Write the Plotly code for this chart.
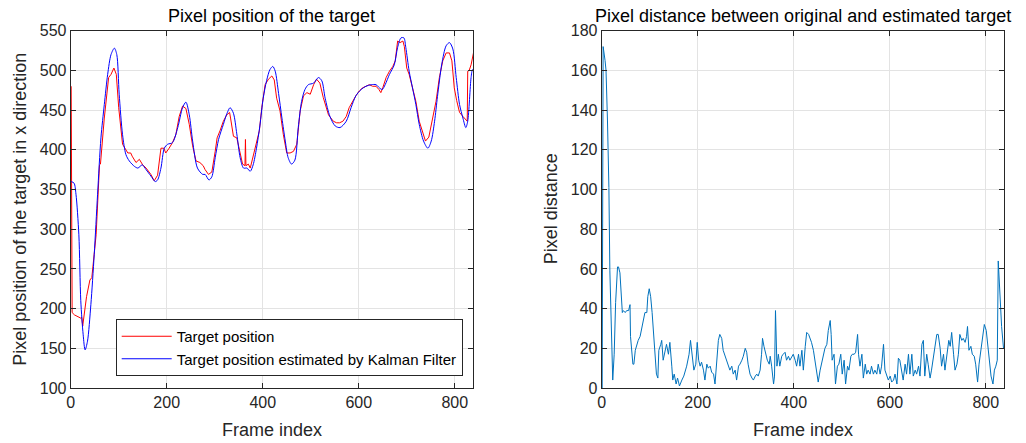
import plotly.graph_objects as go

# ---------------- data ----------------
target_frames = [1, 3, 8, 15, 21, 23, 25, 33, 40, 44, 53, 60, 62, 70, 79, 84, 90, 95, 100, 108, 114, 119, 125,
                 128, 136, 143, 150, 157, 167, 174, 181, 188, 194, 198, 205, 212, 219, 226, 233, 240, 247, 254,
                 261, 269, 276, 280, 287, 294, 301, 305, 311, 318, 325, 331, 333, 339, 346, 353, 358, 363, 364,
                 365, 370, 374, 380, 387, 393, 398, 405, 412, 419, 424, 429, 436, 443, 450, 457, 464, 471, 478,
                 485, 492, 499, 506, 512, 519, 526, 537, 547, 554, 560, 567, 574, 580, 587, 594, 601, 608, 615,
                 622, 629, 636, 642, 646, 650, 657, 664, 671, 676, 681, 686, 692, 695, 700, 705, 712, 719, 726,
                 733, 739, 746, 754, 761, 768, 775, 782, 789, 794, 799, 804, 810, 817, 824, 826, 827, 830, 834,
                 837, 839]
target_pos = [480, 195, 192, 190, 188, 189, 178, 215, 236, 239, 293, 381, 382, 440, 491, 495, 503, 495, 453, 407,
              400, 396, 396, 392, 384, 388, 381, 377, 369, 361, 368, 402, 402, 396, 402, 409, 419, 442, 455, 452,
              432, 405, 386, 384, 380, 375, 369, 372, 398, 415, 424, 436, 444, 447, 440, 417, 415, 394, 382, 380,
              413, 380, 382, 377, 392, 408, 424, 453, 482, 489, 493, 488, 465, 449, 419, 396, 396, 398, 407, 449,
              468, 472, 470, 482, 489, 484, 466, 444, 436, 434, 434, 436, 442, 453, 461, 468, 474, 478, 480, 482,
              480, 480, 476, 472, 478, 491, 499, 505, 512, 537, 535, 537, 530, 503, 495, 478, 461, 436, 421, 411,
              416, 440, 461, 491, 512, 522, 522, 512, 478, 462, 447, 442, 438, 436, 499, 500, 507, 516, 522]

kalman_frames = [1, 7, 11, 17, 21, 26, 30, 35, 42, 49, 56, 63, 70, 77, 84, 91, 96, 101, 108, 115, 122, 133, 140,
                 149, 157, 167, 176, 181, 188, 195, 202, 212, 223, 233, 240, 247, 254, 264, 275, 280, 288, 294,
                 301, 308, 318, 325, 332, 339, 346, 353, 360, 367, 374, 380, 387, 394, 401, 408, 415, 421, 426,
                 433, 440, 447, 453, 460, 467, 474, 481, 488, 495, 506, 516, 523, 530, 540, 551, 561, 574, 584,
                 594, 605, 615, 626, 636, 643, 649, 655, 664, 674, 681, 688, 694, 698, 705, 712, 719, 726, 735,
                 744, 751, 758, 764, 773, 782, 789, 796, 803, 810, 817, 823, 827, 834, 837, 839]
kalman_pos = [360, 358, 344, 293, 210, 167, 148, 159, 205, 268, 344, 415, 457, 495, 520, 528, 520, 470, 419, 394,
              386, 379, 377, 381, 375, 367, 360, 362, 377, 402, 407, 409, 428, 453, 460, 444, 411, 377, 369, 369,
              362, 366, 390, 413, 432, 445, 453, 446, 420, 390, 377, 377, 373, 381, 402, 430, 465, 487, 501, 505,
              499, 471, 440, 411, 390, 382, 387, 428, 461, 476, 482, 484, 491, 487, 465, 442, 430, 428, 436, 453,
              468, 476, 480, 482, 482, 478, 476, 482, 495, 507, 529, 541, 541, 529, 499, 478, 457, 432, 411, 402,
              411, 436, 467, 508, 531, 535, 527, 491, 457, 440, 428, 436, 491, 501, 501]

dist_frames = [1, 3, 7, 9, 12, 15, 17, 20, 23, 26, 29, 33, 35, 38, 40, 43, 45, 49, 52, 56, 59, 60, 65, 67, 70,
               73, 76, 80, 83, 87, 90, 94, 96, 99, 102, 105, 108, 111, 114, 117, 119, 123, 125, 128, 132, 135,
               139, 142, 146, 148, 151, 155, 158, 162, 167, 171, 177, 182, 185, 189, 192, 196, 199, 202, 205,
               208, 212, 215, 219, 222, 226, 229, 233, 236, 240, 243, 246, 250, 253, 257, 260, 264, 267, 271,
               274, 278, 281, 285, 288, 292, 295, 299, 302, 305, 309, 313, 316, 320, 323, 326, 330, 333, 335,
               338, 342, 345, 349, 351, 354, 358, 360, 362, 365, 368, 371, 375, 378, 382, 385, 389, 392, 396,
               399, 403, 406, 410, 413, 417, 420, 424, 427, 431, 434, 437, 441, 444, 448, 451, 455, 458, 462,
               465, 469, 472, 476, 478, 480, 484, 487, 491, 494, 498, 501, 505, 508, 512, 515, 519, 522, 526,
               529, 533, 535, 538, 542, 545, 549, 552, 555, 559, 562, 566, 569, 573, 576, 580, 583, 587, 590,
               594, 597, 601, 604, 608, 611, 615, 618, 621, 625, 628, 632, 635, 639, 642, 646, 649, 653, 656,
               660, 663, 667, 670, 673, 677, 680, 684, 687, 691, 694, 698, 701, 705, 708, 712, 715, 719, 723,
               726, 729, 733, 736, 740, 743, 746, 750, 753, 757, 760, 762, 765, 769, 772, 776, 779, 783, 786,
               790, 793, 797, 801, 804, 808, 811, 815, 818, 821, 824, 826, 830, 833, 837, 839]
dist_vals = [0, 172, 165, 160, 135, 101, 59, 26, 4, 17, 43, 61, 61, 58, 51, 38, 39, 38, 39, 39, 42, 26, 12, 12,
             19, 22, 24, 26, 30, 34, 38, 38, 46, 50, 46, 38, 27, 17, 7, 5, 19, 22, 24, 14, 19, 22, 17, 23, 11,
             4, 7, 2, 5, 1, 4, 6, 11, 17, 24, 17, 9, 12, 23, 14, 11, 13, 9, 4, 12, 10, 11, 8, 7, 2, 17, 24, 27,
             25, 19, 16, 14, 11, 9, 11, 7, 9, 4, 11, 12, 14, 16, 20, 18, 12, 7, 5, 4, 6, 7, 6, 9, 17, 25, 21, 17,
             14, 12, 16, 11, 2, 6, 39, 11, 17, 11, 16, 17, 18, 14, 16, 14, 16, 17, 14, 11, 17, 11, 19, 9, 21, 28,
             27, 25, 23, 19, 14, 7, 3, 9, 12, 17, 20, 22, 29, 34, 27, 14, 17, 2, 11, 12, 17, 7, 14, 2, 11, 9, 16,
             17, 17, 18, 27, 17, 11, 17, 5, 12, 7, 9, 7, 11, 7, 9, 7, 12, 7, 11, 22, 9, 6, 4, 6, 3, 4, 7, 2, 15,
             14, 9, 4, 12, 7, 17, 7, 17, 6, 9, 7, 11, 6, 22, 24, 6, 17, 12, 5, 9, 16, 21, 27, 27, 20, 11, 17, 9,
             17, 24, 21, 28, 17, 9, 12, 17, 27, 24, 25, 23, 26, 31, 19, 21, 17, 16, 12, 3, 12, 19, 27, 32, 29, 22,
             11, 6, 2, 9, 11, 14, 64, 43, 31, 20, 20]

left_xticks = [0, 200, 400, 600, 800]
left_yticks = [100, 150, 200, 250, 300, 350, 400, 450, 500, 550]
right_yticks = [0, 20, 40, 60, 80, 100, 120, 140, 160, 180]

# ---------------- figure ----------------
W, H = 1026, 443
FONT = "Liberation Sans, Arial, sans-serif"
TXT = "#262626"

fig = go.Figure()
fig.add_trace(go.Scatter(x=target_frames, y=target_pos, mode="lines", name="Target position",
                         line=dict(color="#ff0000", width=1), xaxis="x", yaxis="y"))
fig.add_trace(go.Scatter(x=kalman_frames, y=kalman_pos, mode="lines",
                         name="Target position estimated by Kalman Filter",
                         line=dict(color="#0000ff", width=1, shape="spline", smoothing=0.8),
                         xaxis="x", yaxis="y"))
fig.add_trace(go.Scatter(x=dist_frames, y=dist_vals, mode="lines", showlegend=False,
                         line=dict(color="#0072BD", width=1), xaxis="x2", yaxis="y2"))

L0, L1 = 70.7, 473.0
R0, R1 = 601.7, 1004.0
T, B = 30.7, 388.0

axis_common = dict(showline=True, linecolor=TXT, linewidth=1, mirror="ticks", ticks="inside",
                   ticklen=5, tickcolor=TXT, showgrid=True, gridcolor="#e3e3e3", gridwidth=1,
                   zeroline=False, automargin=False, tickfont=dict(family=FONT, size=16, color=TXT))

fig.update_layout(
    template="none",
    width=W, height=H, margin=dict(l=0, r=0, t=0, b=0, pad=0),
    paper_bgcolor="white", plot_bgcolor="white",
    font=dict(family=FONT, color=TXT),
    xaxis=dict(domain=[L0 / W, L1 / W], range=[0, 838], tickvals=left_xticks, anchor="y", **axis_common),
    yaxis=dict(domain=[1 - B / H, 1 - T / H], range=[100, 550], tickvals=left_yticks, anchor="x", **axis_common),
    xaxis2=dict(domain=[R0 / W, R1 / W], range=[0, 838], tickvals=left_xticks, anchor="y2", **axis_common),
    yaxis2=dict(domain=[1 - B / H, 1 - T / H], range=[0, 180], tickvals=right_yticks, anchor="x2", **axis_common),
    legend=dict(x=462.7 / W, y=1 - 376 / H, xanchor="right", yanchor="bottom",
                bgcolor="white", bordercolor="#262626", borderwidth=1,
                font=dict(family=FONT, size=15, color="black"), itemwidth=50, tracegroupgap=0),
    showlegend=True,
)

ann = []
ann.append(dict(text="Pixel position of the target", x=(L0 + L1) / 2 / W, y=1 - 16 / H,
                xref="paper", yref="paper", xanchor="center", yanchor="middle", showarrow=False,
                font=dict(family=FONT, size=18, color="black")))
ann.append(dict(text="Pixel distance between original and estimated target", x=(R0 + R1) / 2 / W,
                y=1 - 16 / H, xref="paper", yref="paper", xanchor="center", yanchor="middle",
                showarrow=False, font=dict(family=FONT, size=18, color="black")))
for cx in [(L0 + L1) / 2, (R0 + R1) / 2]:
    ann.append(dict(text="Frame index", x=cx / W, y=1 - 430 / H, xref="paper", yref="paper",
                    xanchor="center", yanchor="middle", showarrow=False,
                    font=dict(family=FONT, size=18, color=TXT)))
ann.append(dict(text="Pixel position of the target in x direction", x=20.5 / W, y=1 - (T + B) / 2 / H,
                xref="paper", yref="paper", xanchor="center", yanchor="middle", textangle=-90,
                showarrow=False, font=dict(family=FONT, size=18, color=TXT)))
ann.append(dict(text="Pixel distance", x=551 / W, y=1 - (T + B) / 2 / H,
                xref="paper", yref="paper", xanchor="center", yanchor="middle", textangle=-90,
                showarrow=False, font=dict(family=FONT, size=18, color=TXT)))
fig.update_layout(annotations=ann)

fig.write_html("out.html", config={"displayModeBar": False},
               post_script="document.body.style.margin='0';document.body.style.padding='0';"
                           "document.body.style.overflow='hidden';")
